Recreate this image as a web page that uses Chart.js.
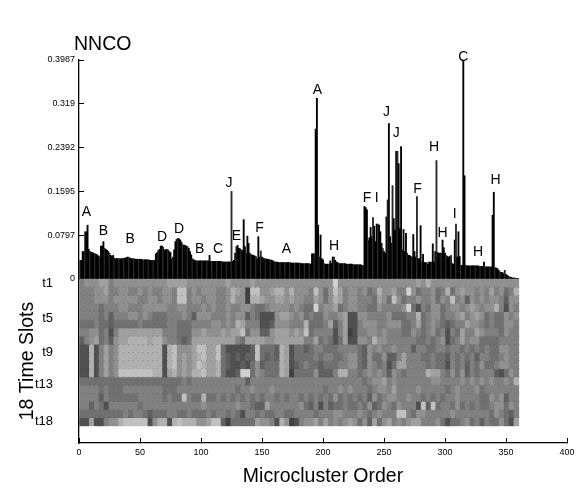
<!DOCTYPE html>
<html lang="en">
<head>
  <meta charset="UTF-8">
  <title>NNCO</title>
  <script src="https://cdn.jsdelivr.net/npm/chart.js"></script>
  <style>
    html, body { margin: 0; padding: 0; background: #fff; }
    #wrap { width: 576px; height: 488px; }
  </style>
</head>
<body>
<div id="wrap"><canvas id="nnco"></canvas></div>

<script>
  // NNCO value of each microcluster, in microcluster order 1..360
  const nnco = [
    .034,.034,.05,.05,.086,.086,.098,.054,.05,.049,.048,.047,.046,.045,.044,.042,.04,.06,.06,.068,
    .056,.054,.052,.05,.047,.043,.041,.043,.038,.037,.037,.037,.037,.037,.037,.037,.038,.038,.039,.04,
    .039,.038,.037,.037,.037,.036,.036,.036,.036,.036,.036,.035,.035,.035,.035,.035,.035,.034,.034,.034,
    .034,.034,.046,.048,.052,.054,.06,.06,.058,.053,.053,.054,.053,.05,.048,.037,.04,.053,.068,.072,
    .074,.073,.071,.067,.062,.062,.061,.06,.059,.056,.05,.044,.037,.035,.034,.033,.033,.033,.033,.033,
    .033,.033,.033,.033,.033,.033,.043,.032,.032,.032,.032,.032,.032,.032,.032,.032,.032,.031,.031,.031,
    .031,.031,.031,.031,.1595,.032,.034,.047,.059,.061,.056,.055,.053,.052,.108,.059,.047,.078,.065,.047,
    .044,.044,.043,.042,.041,.037,.077,.04,.051,.04,.038,.037,.037,.036,.036,.035,.035,.034,.033,.031,
    .031,.031,.03,.03,.03,.03,.03,.03,.03,.03,.03,.03,.03,.029,.029,.029,.029,.029,.029,.029,
    .029,.028,.028,.028,.028,.028,.028,.028,.028,.027,.046,.046,.046,.273,.329,.098,.04,.08,.037,.035,
    .028,.027,.027,.027,.027,.033,.028,.04,.04,.034,.031,.03,.028,.028,.028,.028,.028,.028,.027,.027,
    .027,.027,.027,.027,.026,.026,.026,.026,.026,.026,.026,.025,.024,.132,.13,.126,.07,.075,.094,.077,
    .112,.096,.068,.1,.1,.098,.086,.065,.056,.05,.047,.113,.144,.283,.077,.065,.17,.11,.089,.2325,
    .2325,.21,.092,.241,.053,.09,.05,.083,.047,.043,.043,.041,.04,.081,.05,.04,.15,.037,.037,.097,
    .031,.045,.03,.03,.03,.027,.031,.03,.031,.064,.031,.05,.2156,.048,.047,.047,.047,.071,.057,.047,
    .043,.041,.04,.041,.043,.028,.027,.071,.1,.04,.086,.041,.025,.025,.3987,.188,.025,.024,.024,.024,
    .024,.024,.024,.024,.024,.024,.024,.023,.023,.023,.023,.031,.022,.022,.022,.022,.022,.022,.116,.158,
    .021,.02,.019,.016,.013,.012,.012,.01,.016,.008,.007,.005,.004,.003,.002,.002,.002,.001,.001,.001
  ];

  const nncoTicks = [0, 0.0797, 0.1595, 0.2392, 0.319, 0.3987];
  const orderTicks = [0, 50, 100, 150, 200, 250, 300, 350, 400];
  const slotTickLabels = ['t1', 't5', 't9', 't13', 't18'];
  const slotTickRows = [0.5, 4.8, 9, 12.9, 17.5];

  // grey level (0 dark .. 9 light) per time slot, one character per 4 microclusters
  const heatRows = [
    '45556645555555555566665' + '55555556555565555555555' + '55555595555555555555555' + '657555555555555555555',
    '44455644554454544554884' + '54555445765088556775755' + '54853586455453475564495' + '344534735655454645347',
    '44455545555544554554884' + '55455445755077655665655' + '44653576455444365385344' + '544535484525454554255',
    '44443444554445555544554' + '44545445445543345555454' + '33945563455443354444593' + '143553455456545574154',
    '44443424445545433344454' + '25554445455243111566545' + '34335445611554444533344' + '734553445645653433545',
    '33343323333343333344333' + '44445545476444112555444' + '73334624611455544555334' + '634543234465543433554',
    '44553414666666666444333' + '55655565668355225666565' + '83444414601445545444335' + '434534143644654443544',
    '24563425667777677544323' + '66666666643666655666666' + '44634313611554755444444' + '334345134645533334444',
    '11714645777777777178555' + '68866831111128333276133' + '23443334444325454454442' + '443344344343434335544',
    '11714645777777777178565' + '67866832121228323276133' + '33434433455325335224644' + '433433243434244334544',
    '11714645777777777178565' + '68766732112135233376123' + '43323334455325434136644' + '443433143424353345544',
    '11714645888888877167565' + '77866731129935433376033' + '33522247744345454254344' + '447664353524344421354',
    '33333333333333333333343' + '44444444444244444444444' + '44444444444434556454444' + '444554444545454544547',
    '44443433344444444333444' + '44444444434454445444444' + '44443445454443455464444' + '544444345444534444444',
    '44442433333344444343384' + '33733434343434344343443' + '43434353434342534554454' + '434343445444433545244',
    '44243144444434444444444' + '44544444454432264444445' + '32414233433435235435444' + '182834435343433455354',
    '33333333343443233344334' + '33343443431443433443344' + '44344455444543454448843' + '554444454444444354324',
    '11611455788888157717877' + '75568820333336554175014' + '55646454565352635645456' + '644453133453424335316'
  ];

  // letter marks placed over the peaks
  const peakLetters = ['A','B','B','D','D','B','C','J','E','F','A','A','H','F','I','J','J','F','H','H','I','C','H','H'];
  const peakOrder = [6,20,42,68,82,99,114,123,129,148,170,195.5,209,236,244,252,260,277.5,291,298,308,315,327,341.5];
  const peakHeight = [.122,.0874,.0728,.0764,.091,.0546,.0546,.1747,.0783,.0928,.0546,.344,.06,.1474,.1474,.304,.2657,.1638,.24,.0837,.1183,.404,.0491,.18];

  const heatDatasets = heatRows.map((row, r) => ({
    type: 'bar',
    xAxisID: 'x2',
    yAxisID: 'slots',
    grouped: false,
    barPercentage: 1,
    categoryPercentage: 1,
    backgroundColor: row.split('').map(c => {
      const g = 64 + 16 * Number(c);
      return `rgb(${g},${g},${g})`;
    }),
    data: row.split('').map((c, k) => ({ x: 4 * k + 2.5, y: [r, r + 1] }))
  }));

  // small dark dots where the time slot rows meet every fourth microcluster
  const cellDots = [];
  heatRows.forEach((row, r) => {
    if (r === 0) return;
    row.split('').forEach((c, k) => cellDots.push({ x: 4 * k + 4.5, y: r }));
  });

  const letterMarks = {
    id: 'letterMarks',
    afterDatasetsDraw(chart) {
      const { ctx, scales } = chart;
      ctx.save();
      ctx.fillStyle = '#000';
      ctx.textAlign = 'center';
      ctx.textBaseline = 'middle';
      ctx.font = '14px "Liberation Sans"';
      peakLetters.forEach((t, i) => {
        ctx.fillText(t, scales.x.getPixelForValue(peakOrder[i]), scales.y.getPixelForValue(peakHeight[i]));
      });
      ctx.textAlign = 'left';
      ctx.font = '19.5px "Liberation Sans"';
      ctx.fillText('NNCO', 74, 45);
      ctx.restore();
    }
  };

  Chart.defaults.font.family = '"Liberation Sans"';
  Chart.defaults.color = '#000';

  new Chart(document.getElementById('nnco').getContext('2d'), {
    type: 'bar',
    data: {
      datasets: [
        {
          type: 'scatter',
          label: 'dots',
          order: -1,
          xAxisID: 'x2',
          yAxisID: 'slots',
          pointStyle: 'rect',
          pointRadius: 0.5,
          pointBorderWidth: 0,
          backgroundColor: 'rgba(35,35,35,0.55)',
          data: cellDots
        },
        {
          label: 'NNCO',
          xAxisID: 'x',
          yAxisID: 'y',
          grouped: false,
          barPercentage: 1,
          categoryPercentage: 1,
          backgroundColor: nnco.map((v, i) => (i % 4 === 0 ? '#2a2a2a' : '#000')),
          data: nnco.map((v, i) => ({ x: i + 1, y: v }))
        },
        ...heatDatasets
      ]
    },
    plugins: [letterMarks],
    options: {
      responsive: true,
      maintainAspectRatio: false,
      animation: false,
      layout: { padding: { top: 60, right: 9, left: 0, bottom: 0 } },
      plugins: { legend: { display: false }, tooltip: { enabled: false } },
      scales: {
        x: {
          type: 'linear',
          offset: false,
          min: 0,
          max: 400,
          afterBuildTicks: s => { s.ticks = orderTicks.map(v => ({ value: v })); },
          afterFit: s => { s.height = 45; s.paddingRight = 0; s.paddingLeft = 0; },
          grid: { drawOnChartArea: false, tickLength: -5, color: '#000', offset: false },
          border: { color: '#000', width: 1.3 },
          ticks: { font: { size: 9 }, padding: 9, maxRotation: 0, autoSkip: false },
          title: { display: true, text: 'Microcluster Order', font: { size: 19.5 }, padding: { top: 0, bottom: 0 } }
        },
        x2: { type: 'linear', offset: false, min: 0, max: 400, display: false },
        y: {
          stack: 'left',
          stackWeight: 219,
          weight: 1,
          min: 0,
          max: 0.3987,
          afterBuildTicks: s => { s.ticks = nncoTicks.map(v => ({ value: v })); },
          afterFit: s => { s.width = 79; },
          grid: { drawOnChartArea: false, tickLength: -5, color: '#000' },
          border: { color: '#000', width: 1.3 },
          ticks: { font: { size: 9 }, padding: 9, autoSkip: false, callback: v => String(v) }
        },
        slots: {
          stack: 'left',
          stackWeight: 164,
          weight: 0,
          reverse: true,
          min: 0,
          max: 20.1,
          afterBuildTicks: s => { s.ticks = slotTickRows.map(v => ({ value: v })); },
          afterFit: s => { s.width = 79; },
          grid: { display: true, drawOnChartArea: false, drawTicks: false },
          border: { color: '#000', width: 1.3 },
          ticks: { font: { size: 13 }, padding: 26, autoSkip: false, callback: (v, i) => slotTickLabels[i] },
          title: { display: true, text: '18 Time Slots', font: { size: 19.5 }, padding: { top: 16, bottom: 0 } }
        }
      }
    }
  });
</script>
</body>
</html>
